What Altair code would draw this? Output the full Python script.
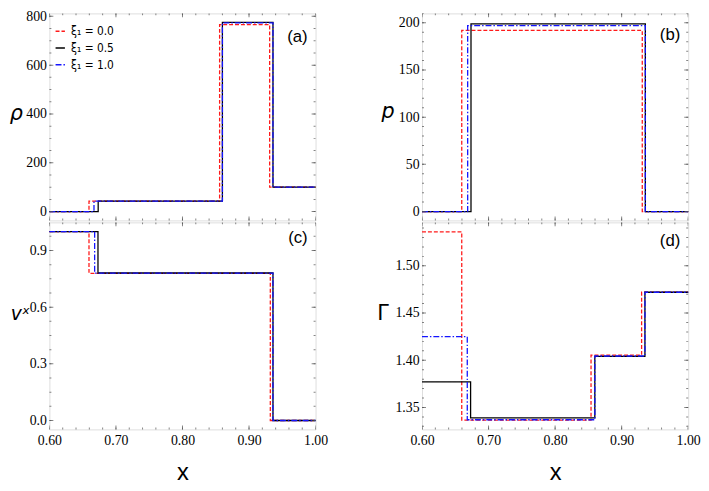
import altair as alt
import pandas as pd

X_MIN, X_MAX = 0.60, 1.00
SERIES = ["ξ₁ = 0.0", "ξ₁ = 0.5", "ξ₁ = 1.0"]
COLORS = ["#ff1a1a", "#000000", "#1414ff"]
DASHES = [[4, 2], [1, 0], [6, 2, 1.5, 2]]

X_TICKS = [0.60, 0.70, 0.80, 0.90, 1.00]

# panel (a) density
rho_breaks = [[0.6595, 0.8558, 0.931], [0.6733, 0.860, 0.936], [0.667, 0.860, 0.936]]
rho_levels = [[0, 43, 766, 100], [0, 43, 775, 100], [0, 43, 773, 100]]
# panel (b) pressure
p_breaks = [[0.6597, 0.931], [0.6736, 0.9356], [0.6686, 0.9356]]
p_levels = [[0, 192, 0], [0, 199, 0], [0, 197, 0]]
# panel (c) velocity
v_breaks = [[0.6595, 0.932], [0.673, 0.936], [0.668, 0.936]]
v_levels = [[1.0, 0.779, 0.0], [1.0, 0.781, 0.0], [1.0, 0.780, 0.0]]
# panel (d) adiabatic index
g_breaks = [[0.6597, 0.854, 0.930], [0.673, 0.8597, 0.935], [0.668, 0.8597, 0.935]]
g_levels = [[1.536, 1.3366, 1.4055, 1.472], [1.377, 1.339, 1.404, 1.472], [1.425, 1.337, 1.4045, 1.472]]

FONT = "Liberation Sans Narrow"
FRAME = "#505050"
W, H = 270, 210


def make_df(breaks, levels):
    rows = []
    for s, b, lv in zip(SERIES, breaks, levels):
        xs = [X_MIN] + b + [X_MAX]
        ys = lv + [lv[-1]]
        for x, y in zip(xs, ys):
            rows.append({"x": x, "y": y, "s": s})
    return pd.DataFrame(rows)


def minor(lo, hi, step, start):
    out = []
    v = start
    while v <= hi + 1e-9:
        if v >= lo - 1e-9:
            out.append(round(v, 6))
        v += step
    return out


def panel(breaks, levels, ydom, ymajor, ystep_minor, yfmt, ytitle, tstyle, tsize, tx, ty,
          label, lx, ly, bottom, legend):
    df = make_df(breaks, levels)
    xs = alt.Scale(domain=[X_MIN, X_MAX], nice=False, zero=False, padding=0)
    ys = alt.Scale(domain=ydom, nice=False, zero=False, padding=0)
    xaxis_kw = dict(values=X_TICKS, format=".2f", ticks=False, domain=False, grid=False,
                    labelFont=FONT, labelFontSize=14, labelColor="#000", labelPadding=4,
                    labelFlush=False, labelOverlap=False)
    if bottom:
        xaxis_kw.update(title="x", titleFont="Liberation Sans", titleFontSize=24,
                        titleFontWeight="normal", titlePadding=14, titleColor="#000")
    else:
        xaxis_kw.update(labels=False, title="")
    xaxis = alt.Axis(**xaxis_kw)
    yaxis = alt.Axis(values=ymajor, format=yfmt, ticks=False, domain=False, grid=False,
                     labelFont=FONT, labelFontSize=14, labelColor="#000", labelPadding=3,
                     labelFlush=False, labelOverlap=False,
                     title=ytitle, titleAngle=0, titleX=tx, titleY=ty, titleAlign="center",
                     titleBaseline="middle", titleFont="DejaVu Sans", titleFontStyle=tstyle,
                     titleFontWeight="normal", titleFontSize=tsize, titleColor="#000")
    if legend:
        leg = alt.Legend(title=None, orient="none", legendX=5, legendY=12, symbolType="stroke",
                         symbolSize=90, symbolStrokeWidth=1.5, labelFont="DejaVu Sans Condensed",
                         labelFontSize=12, labelColor="#000", rowPadding=5, labelOffset=5,
                         padding=0)
        color = alt.Color("s:N", scale=alt.Scale(domain=SERIES, range=COLORS), legend=leg)
        dash = alt.StrokeDash("s:N", scale=alt.Scale(domain=SERIES, range=DASHES), legend=leg)
    else:
        color = alt.Color("s:N", scale=alt.Scale(domain=SERIES, range=COLORS), legend=None)
        dash = alt.StrokeDash("s:N", scale=alt.Scale(domain=SERIES, range=DASHES), legend=None)

    lines = alt.Chart(df).mark_line(interpolate="step-after", strokeWidth=1.3).encode(
        x=alt.X("x:Q", scale=xs, axis=xaxis),
        y=alt.Y("y:Q", scale=ys, axis=yaxis),
        color=color,
        strokeDash=dash,
        detail="s:N",
    )

    xmin = minor(X_MIN, X_MAX, 0.02, 0.60)
    ymin = minor(ydom[0], ydom[1], ystep_minor, ymajor[0] - 10 * ystep_minor)
    layers = [lines]
    for vals, size in ((X_TICKS, 8), (xmin, 4)):
        tdf = pd.DataFrame({"x": vals})
        for yy in (0, H):
            layers.append(alt.Chart(tdf).mark_tick(clip=True, color=FRAME, thickness=1, size=size).encode(
                x=alt.X("x:Q", scale=xs, axis=xaxis), y=alt.value(yy)))
    for vals, size in ((ymajor, 8), (ymin, 4)):
        tdf = pd.DataFrame({"y": vals})
        for xx in (0, W):
            layers.append(alt.Chart(tdf).mark_tick(clip=True, color=FRAME, thickness=1, size=size).encode(
                y=alt.Y("y:Q", scale=ys, axis=yaxis), x=alt.value(xx)))
    layers.append(alt.Chart(pd.DataFrame({"l": [label]})).mark_text(
        font="Liberation Sans", fontSize=17, align="right", baseline="middle", color="#000").encode(
        text="l:N", x=alt.value(lx), y=alt.value(ly)))
    return alt.layer(*layers).properties(width=W, height=H).resolve_legend(color="independent", strokeDash="independent")


pa = panel(rho_breaks, rho_levels, [-36, 812], [0, 200, 400, 600, 800], 50, "d", "ρ", "italic", 21, -34, 102,
           "(a)", W - 8, 24, False, True)
pb = panel(p_breaks, p_levels, [-9.4, 210], [0, 50, 100, 150, 200], 10, "d", "p", "italic", 21, -35, 100,
           "(b)", W - 8, 22, False, False)
pc = panel(v_breaks, v_levels, [-0.047, 1.049], [0.0, 0.3, 0.6, 0.9], 0.075, ".1f", "vˣ", "italic", 19, -30, 93,
           "(c)", W - 8, 16, True, False)
pd_ = panel(g_breaks, g_levels, [1.3268, 1.546], [1.35, 1.40, 1.45, 1.50], 0.01, ".2f", "Γ", "normal", 21, -40, 93,
            "(d)", W - 8, 19, True, False)

chart = alt.concat(pa, pb, pc, pd_, columns=2, spacing={"row": 0, "column": 48}).configure_view(
    stroke=FRAME, strokeWidth=1.5
).configure(padding={"top": -3, "left": 0, "right": 0, "bottom": 0}).resolve_scale(
    color="independent", strokeDash="independent"
).resolve_legend(color="independent", strokeDash="independent")

chart.save("out.html", embed_options={"renderer": "svg", "actions": False})
